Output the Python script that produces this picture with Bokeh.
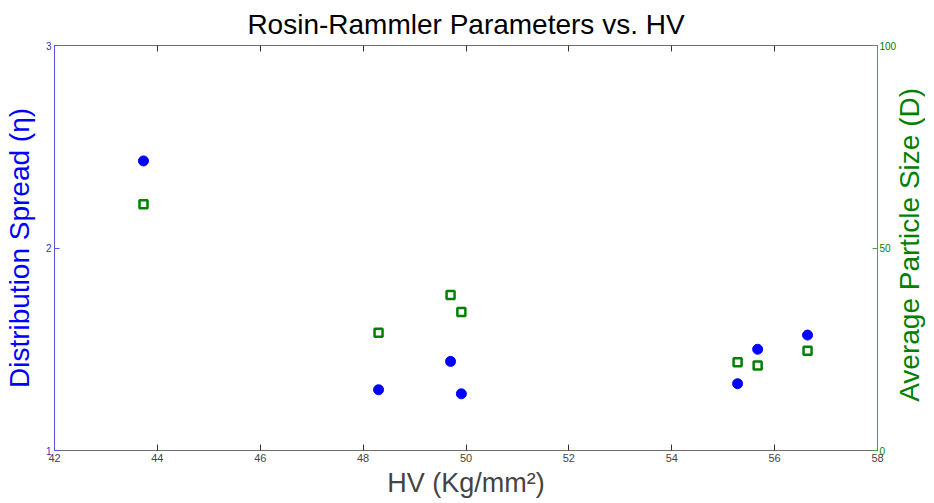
from bokeh.plotting import figure
from bokeh.models import LinearAxis, Range1d, FixedTicker, Div
from bokeh.layouts import row
from bokeh.embed import file_html
from bokeh.resources import INLINE

hv = [43.73, 48.30, 49.70, 49.91, 55.28, 55.67, 56.64]
spread = [2.43, 1.30, 1.44, 1.28, 1.33, 1.50, 1.57]
size_d = [60.8, 29.1, 38.4, 34.2, 21.8, 21.0, 24.6]
x_ticks = [42, 44, 46, 48, 50, 52, 54, 56, 58]
left_ticks = [1, 2, 3]
right_ticks = [0, 50, 100]
right_title = "Average Particle Size (D)"

FONT = "Liberation Sans"
BLUE = "#0000ff"
GREEN = "#008000"
GREY = "#6e6e6e"

p = figure(width=899, height=503, output_backend="svg", toolbar_location=None,
           x_range=Range1d(42, 58), y_range=Range1d(1, 3),
           min_border_left=54, min_border_right=19, min_border_top=44, min_border_bottom=53,
           margin=0)
p.title.text = "Rosin-Rammler Parameters vs. HV"
p.title.align = "center"
p.title.text_font = FONT
p.title.text_font_size = "28px"
p.title.text_font_style = "normal"
p.title.text_color = "#000000"
p.title.standoff = 12

p.xgrid.visible = False
p.ygrid.visible = False
p.outline_line_color = GREY
p.background_fill_color = "white"
p.border_fill_color = "white"

p.extra_y_ranges = {"d": Range1d(0, 100)}

# bottom axis
xa = p.xaxis[0]
xa.ticker = FixedTicker(ticks=x_ticks)
xa.axis_label = "HV (Kg/mm²)"
xa.axis_label_text_font = FONT
xa.axis_label_text_font_size = "27px"
xa.axis_label_text_font_style = "normal"
xa.axis_label_standoff = 3
xa.major_label_text_font = FONT
xa.major_label_text_font_size = "11px"
xa.major_label_standoff = 3
xa.major_tick_in = 6
xa.major_tick_out = 0
xa.minor_tick_line_color = None
xa.axis_line_color = GREY
xa.major_tick_line_color = "#333333"

# left axis
ya = p.yaxis[0]
ya.ticker = FixedTicker(ticks=left_ticks)
ya.axis_label = "Distribution Spread (η)"
ya.axis_label_text_font = FONT
ya.axis_label_text_font_size = "28px"
ya.axis_label_text_font_style = "normal"
ya.axis_label_text_color = BLUE
ya.axis_label_standoff = 8
ya.major_label_text_font = FONT
ya.major_label_text_font_size = "10px"
ya.major_label_text_color = "#3333aa"
ya.major_label_standoff = 3
ya.major_tick_in = 5
ya.major_tick_out = 0
ya.minor_tick_line_color = None
ya.axis_line_color = "#5555dd"
ya.major_tick_line_color = "#5555dd"

# right axis
ra = LinearAxis(y_range_name="d", ticker=FixedTicker(ticks=right_ticks))
ra.major_label_text_font = FONT
ra.major_label_text_font_size = "10px"
ra.major_label_text_color = GREEN
ra.major_label_standoff = 2
ra.major_label_orientation = "horizontal"
ra.major_tick_in = 5
ra.major_tick_out = 0
ra.minor_tick_line_color = None
ra.axis_line_color = "#44aa44"
ra.major_tick_line_color = "#44aa44"
p.add_layout(ra, "right")

# top axis (ticks only)
ta = LinearAxis(ticker=FixedTicker(ticks=x_ticks))
ta.major_label_text_font_size = "0px"
ta.major_label_text_color = None
ta.major_label_standoff = 0
ta.major_tick_in = 6
ta.major_tick_out = 0
ta.minor_tick_line_color = None
ta.axis_line_color = GREY
ta.major_tick_line_color = "#333333"
p.add_layout(ta, "above")

p.scatter(hv, spread, marker="circle", size=10, fill_color=BLUE, line_color=BLUE)
p.scatter(hv, size_d, y_range_name="d", marker="square", size=8,
          fill_color="white", line_color=GREEN, line_width=2.5)

# right-hand axis title, reading bottom-to-top
div = Div(width=35, height=503, margin=0, text=(
    '<div style="height:490px; width:35px; display:flex; align-items:center; '
    'justify-content:flex-start; margin-left:-3px;">'
    '<div style="writing-mode:vertical-rl; transform:rotate(180deg); '
    f'font-family:\'{FONT}\'; font-size:28px; line-height:28px; color:{GREEN}; '
    f'white-space:nowrap;">{right_title}</div></div>'))

layout = row(p, div, spacing=0)
open("out.html", "w").write(file_html(layout, INLINE))
